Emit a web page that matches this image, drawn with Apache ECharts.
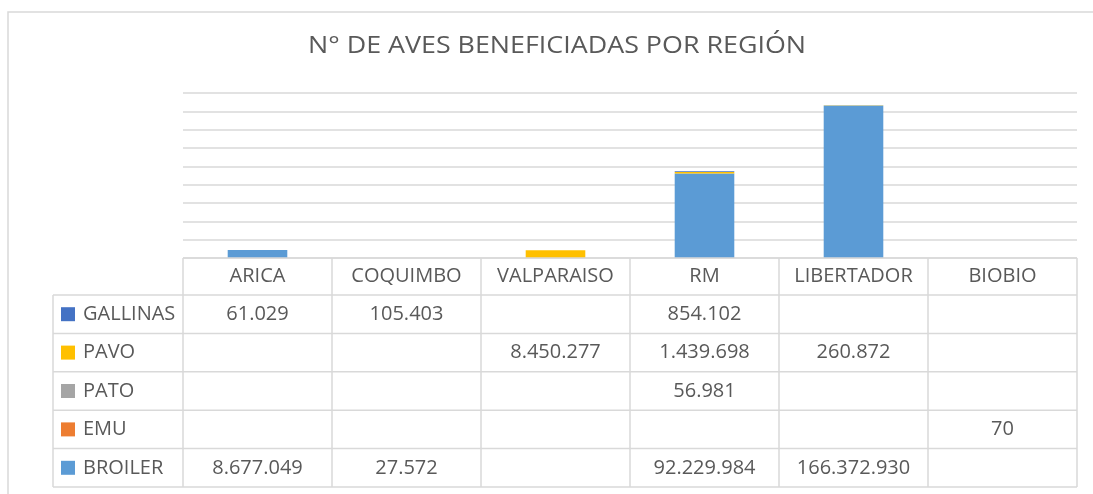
<!DOCTYPE html>
<html>
<head>
<meta charset="utf-8">
<script src="https://cdn.jsdelivr.net/npm/echarts@6/dist/echarts.min.js"></script>
<style>
html, body { margin: 0; padding: 0; background: #fff; }
#chart { width: 1093px; height: 494px; }
</style>
</head>
<body>
<div id="chart"></div>
<script>
// datos por region
const regiones = ['ARICA', 'COQUIMBO', 'VALPARAISO', 'RM', 'LIBERTADOR', 'BIOBIO'];
const gallinas = [61029, 105403, null, 854102, null, null];
const pavo = [null, null, 8450277, 1439698, 260872, null];
const pato = [null, null, null, 56981, null, null];
const emu = [null, null, null, null, null, 70];
const broiler = [8677049, 27572, null, 92229984, 166372930, null];
const yMax = 180000000;
const yStep = 20000000;

const titulo = 'N° DE AVES BENEFICIADAS POR REGIÓN';

// filas de la tabla, en el orden que se ven
const filas = [
  { name: 'GALLINAS', color: '#4472C4', data: gallinas },
  { name: 'PAVO', color: '#FFC000', data: pavo },
  { name: 'PATO', color: '#A5A5A5', data: pato },
  { name: 'EMU', color: '#ED7D31', data: emu },
  { name: 'BROILER', color: '#5B9BD5', data: broiler }
];

const gridLeft = 183, gridRight = 16, gridTop = 93, gridBottom = 236;
const colW = (1093 - gridLeft - gridRight) / regiones.length;
const tblTop = 494 - gridBottom;
const headH = 37;
const rowH = 38.4;
const labelLeft = 53;
const lineColor = '#d9d9d9';
const textColor = '#595959';
const cellFont = '20px "Open Sans"';

function fmt(v) {
  if (v == null) return '';
  return String(v).replace(/\B(?=(\d{3})+(?!\d))/g, '.');
}

function line(x1, y1, x2, y2) {
  return {
    type: 'line', z: 10, silent: true,
    shape: { x1: x1, y1: y1, x2: x2, y2: y2 },
    style: { stroke: lineColor, lineWidth: 1.5 }
  };
}

function texto(str, x, y, align) {
  return {
    type: 'text', z: 11, silent: true,
    style: {
      text: str, x: x, y: y,
      align: align, textAlign: align,
      verticalAlign: 'middle', textVerticalAlign: 'middle',
      font: cellFont, fill: textColor
    }
  };
}

const right = gridLeft + colW * regiones.length;
const tblBottom = tblTop + headH + rowH * filas.length;
let graficos = [];

// marco exterior
graficos.push({
  type: 'rect', z: 0, silent: true,
  shape: { x: 8, y: 12, width: 1200, height: 600 },
  style: { fill: 'none', stroke: lineColor, lineWidth: 1.5 }
});

// lineas horizontales
graficos.push(line(gridLeft, tblTop, right, tblTop));
for (let i = 0; i <= filas.length; i++) {
  let y = tblTop + headH + rowH * i;
  graficos.push(line(labelLeft, y, right, y));
}
// lineas verticales
graficos.push(line(labelLeft, tblTop + headH, labelLeft, tblBottom));
for (let j = 0; j <= regiones.length; j++) {
  let x = gridLeft + colW * j;
  graficos.push(line(x, tblTop, x, tblBottom));
}

// encabezados
regiones.forEach((r, j) => {
  graficos.push(texto(r, gridLeft + colW * (j + 0.5), tblTop + headH / 2, 'center'));
});

// filas
filas.forEach((f, i) => {
  let yc = tblTop + headH + rowH * (i + 0.5);
  graficos.push({
    type: 'rect', z: 11, silent: true,
    shape: { x: 61, y: yc - 7, width: 14, height: 14 },
    style: { fill: f.color }
  });
  graficos.push(texto(f.name, 83, yc, 'left'));
  f.data.forEach((v, j) => {
    if (v != null) graficos.push(texto(fmt(v), gridLeft + colW * (j + 0.5), yc, 'center'));
  });
});

// titulo, estirado al ancho original
const titleFont = '23px "Open Sans"';
const ctx = document.createElement('canvas').getContext('2d');
ctx.font = titleFont;
const escala = 498 / ctx.measureText(titulo).width;
graficos.push({
  type: 'text', z: 11, silent: true,
  x: 557, y: 46, scaleX: escala,
  style: {
    text: titulo, x: 0, y: 0,
    align: 'center', textAlign: 'center',
    verticalAlign: 'middle', textVerticalAlign: 'middle',
    font: titleFont, fill: textColor
  }
});

// apiladas: BROILER abajo, GALLINAS arriba
const series = filas.slice().reverse().map(f => ({
  name: f.name,
  type: 'bar',
  stack: 'total',
  barWidth: '40%',
  itemStyle: { color: f.color },
  data: f.data
}));

const myChart = echarts.init(document.getElementById('chart'));
myChart.setOption({
  animation: false,
  grid: { left: gridLeft, right: gridRight, top: gridTop, bottom: gridBottom },
  xAxis: {
    type: 'category',
    data: regiones,
    axisLine: { show: false },
    axisTick: { show: false },
    axisLabel: { show: false }
  },
  yAxis: {
    type: 'value',
    min: 0,
    max: yMax,
    interval: yStep,
    axisLine: { show: false },
    axisTick: { show: false },
    axisLabel: { show: false },
    splitLine: { lineStyle: { color: lineColor, width: 1.5 } }
  },
  series: series,
  graphic: graficos
});
</script>
</body>
</html>
